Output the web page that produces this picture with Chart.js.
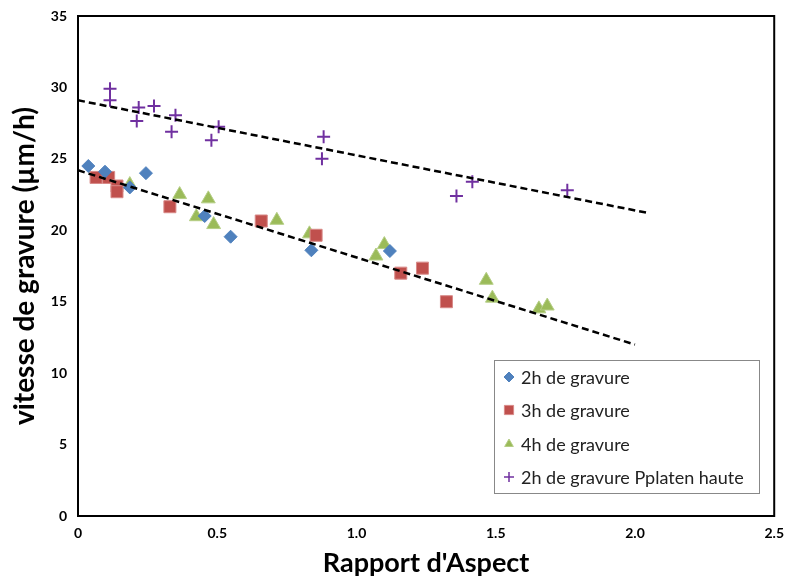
<!DOCTYPE html>
<html>
<head>
<meta charset="utf-8">
<script src="https://cdn.jsdelivr.net/npm/chart.js@4.4.1/dist/chart.umd.min.js"></script>
<style>
  html,body{margin:0;padding:0;background:#fff;}
  #wrap{width:788px;height:583px;position:relative;}
</style>
</head>
<body>
<div id="wrap"><canvas id="c" width="788" height="583"></canvas></div>
<script>
// ---- Data ----
const xTicks = [0, 0.5, 1, 1.5, 2, 2.5];
const yTicks = [0, 5, 10, 15, 20, 25, 30, 35];

const s2hX = [0.037, 0.097, 0.186, 0.244, 0.455, 0.548, 0.838, 1.12];
const s2hY = [24.5, 24.1, 23.0, 24.0, 21.0, 19.55, 18.6, 18.55];

const s3hX = [0.065, 0.11, 0.14, 0.14, 0.33, 0.658, 0.855, 1.159, 1.237, 1.323];
const s3hY = [23.7, 23.7, 23.1, 22.7, 21.65, 20.65, 19.65, 17.0, 17.35, 15.0];

const s4hX = [0.186, 0.365, 0.425, 0.468, 0.487, 0.714, 0.831, 1.07, 1.1, 1.466, 1.488, 1.655, 1.685];
const s4hY = [23.2, 22.5, 20.95, 22.2, 20.4, 20.7, 19.75, 18.2, 19.0, 16.5, 15.25, 14.5, 14.7];

const sPpX = [0.115, 0.115, 0.211, 0.218, 0.273, 0.336, 0.35, 0.479, 0.505, 0.876, 0.882, 1.359, 1.416, 1.757];
const sPpY = [29.9, 29.1, 27.65, 28.6, 28.7, 26.9, 28.05, 26.3, 27.25, 25.0, 26.55, 22.4, 23.4, 22.8];

const trendHighX = [0, 2.05];
const trendHighY = [29.1, 21.2];
const trendLowX = [0, 2.0];
const trendLowY = [24.2, 12.0];

const labels = ['2h de gravure', '3h de gravure', '4h de gravure', '2h de gravure Pplaten haute'];

const pts = (xs, ys) => xs.map((x, i) => ({x: x, y: ys[i]}));

// ---- Legend plugin (drawn inside plot area) ----
const insideLegend = {
  id: 'insideLegend',
  afterDraw(chart) {
    const ctx = chart.ctx;
    const bx = 494, by = 360, bw = 265, bh = 133;
    ctx.save();
    ctx.fillStyle = '#fff';
    ctx.fillRect(bx, by, bw, bh);
    ctx.strokeStyle = '#888';
    ctx.lineWidth = 1;
    ctx.strokeRect(bx + 0.5, by + 0.5, bw, bh);
    const rows = [377, 410, 444, 477];
    ctx.font = '18px Lato, "Open Sans", sans-serif';
    ctx.textBaseline = 'middle';
    for (let i = 0; i < 4; i++) {
      const ds = chart.data.datasets[i];
      const mx = 509, my = rows[i];
      ctx.fillStyle = ds.backgroundColor;
      ctx.strokeStyle = ds.borderColor;
      ctx.lineWidth = ds.pointStyle === 'cross' ? 1.5 : 1;
      Chart.helpers.drawPoint(ctx, {pointStyle: ds.pointStyle, radius: ds.pointStyle === 'rect' ? 6.5 : 5, rotation: 0, borderWidth: ctx.lineWidth}, mx, my);
      ctx.fillStyle = '#222';
      ctx.fillText(labels[i], 521, my + 1);
    }
    ctx.restore();
  }
};

const frame = {
  id: 'frame',
  afterDraw(chart) {
    const a = chart.chartArea, ctx = chart.ctx;
    ctx.save();
    ctx.strokeStyle = '#000';
    ctx.lineWidth = 2;
    ctx.strokeRect(a.left, a.top, a.right - a.left, a.bottom - a.top);
    ctx.restore();
  }
};

const tickFont = {family: 'Lato, "Open Sans", sans-serif', size: 14, weight: 'bold'};

new Chart(document.getElementById('c'), {
  type: 'scatter',
  data: {
    datasets: [
      {label: labels[0], data: pts(s2hX, s2hY), pointStyle: 'rectRot', pointRadius: 6.5,
       backgroundColor: '#4F81BD', borderColor: '#4F81BD', borderWidth: 1, order: 2},
      {label: labels[1], data: pts(s3hX, s3hY), pointStyle: 'rect', pointRadius: 8.5,
       backgroundColor: '#C0504D', borderColor: '#D88A88', borderWidth: 1, order: 2},
      {label: labels[2], data: pts(s4hX, s4hY), pointStyle: 'triangle', pointRadius: 8,
       backgroundColor: '#9BBB59', borderColor: '#B5CE86', borderWidth: 1, order: 2},
      {label: labels[3], data: pts(sPpX, sPpY), pointStyle: 'cross', pointRadius: 6.5,
       backgroundColor: '#7030A0', borderColor: '#7030A0', borderWidth: 2, order: 2},
      {type: 'line', label: 'trend1', data: pts(trendHighX, trendHighY), borderColor: '#000',
       borderWidth: 2.5, borderDash: [7, 4], pointRadius: 0, fill: false, order: 1},
      {type: 'line', label: 'trend2', data: pts(trendLowX, trendLowY), borderColor: '#000',
       borderWidth: 2.5, borderDash: [7, 4], pointRadius: 0, fill: false, order: 1}
    ]
  },
  options: {
    responsive: false,
    animation: false,
    layout: {padding: {top: 16, right: 12, left: 0, bottom: 0}},
    plugins: {legend: {display: false}, tooltip: {enabled: false}},
    scales: {
      x: {
        type: 'linear', min: 0, max: 2.5,
        afterBuildTicks: s => { s.ticks = xTicks.map(v => ({value: v})); },
        afterFit: s => { s.height = 67; },
        grid: {display: false, drawTicks: true, tickLength: 5, tickColor: '#444'},
        border: {display: true, color: '#000', width: 2},
        ticks: {color: '#000', font: tickFont, padding: 4, maxRotation: 0},
        title: {display: true, text: "Rapport d'Aspect", color: '#000',
                font: {family: 'Lato, "Open Sans", sans-serif', size: 27, weight: 'bold'}, padding: {top: 4}}
      },
      y: {
        type: 'linear', min: 0, max: 35,
        afterBuildTicks: s => { s.ticks = yTicks.map(v => ({value: v})); },
        afterFit: s => { s.width = 78; },
        grid: {display: false, drawTicks: true, tickLength: 5, tickColor: '#444'},
        border: {display: true, color: '#000', width: 2},
        ticks: {color: '#000', font: tickFont, padding: 6},
        title: {display: true, text: 'vitesse de gravure (µm/h)', color: '#000',
                font: {family: 'Lato, "Open Sans", sans-serif', size: 28, weight: 'bold'}, padding: {top: 8, bottom: 6}}
      }
    }
  },
  plugins: [insideLegend, frame]
});
</script>
</body>
</html>
